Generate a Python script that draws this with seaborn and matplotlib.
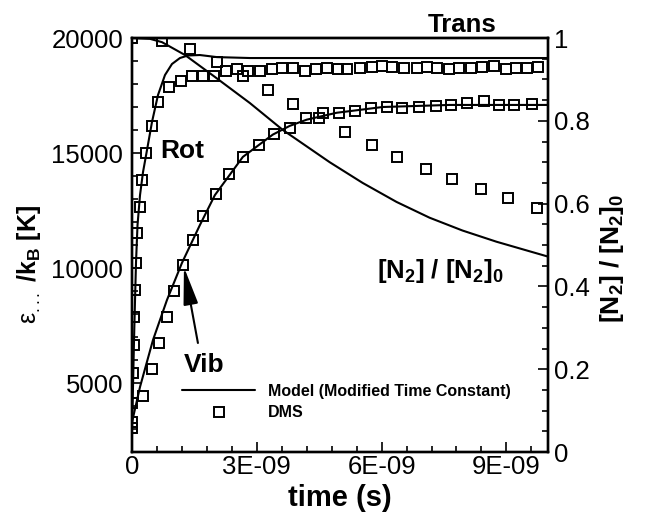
import numpy as np
import pandas as pd
import matplotlib
matplotlib.use("Agg")
import matplotlib.pyplot as plt
import seaborn as sns
from matplotlib.lines import Line2D
from matplotlib.ticker import MultipleLocator, FixedLocator, FixedFormatter

# ---- model curves (time in ns, energy in K) ----
trans_model_t = [0.0, 10.0]
trans_model_E = [20000, 20000]

rot_model_t = [0, 0.024, 0.048, 0.072, 0.096, 0.132, 0.192, 0.264, 0.36, 0.48,
               0.624, 0.792, 0.96, 1.152, 1.344, 1.632, 2.04, 2.832, 10.0]
rot_model_E = [3000, 4900, 6870, 8610, 10260, 11870, 13170, 14170, 15130, 16350,
               17520, 18390, 18870, 19130, 19240, 19260, 19170, 19130, 19130]

vib_model_t = [0, 0.192, 0.504, 0.84, 1.2, 1.632, 1.992, 2.664, 3.384, 3.792,
               4.2, 4.92, 6.024, 7.632, 10.0]
vib_model_E = [3300, 4830, 6870, 8610, 10220, 11870, 13170, 14830, 15800, 16180,
               16450, 16750, 17000, 17090, 17090]

n2_model_t = [0, 0.432, 0.72, 1.272, 1.992, 2.832, 3.624, 4.752, 5.544, 6.36,
              7.152, 7.944, 8.76, 9.552, 10.0]
n2_model_frac = [1.0, 0.998, 0.990, 0.959, 0.906, 0.843, 0.778, 0.700, 0.650, 0.604,
                 0.566, 0.535, 0.508, 0.485, 0.472]

# ---- DMS samples ----
rot_dms_t = [0, 0.01, 0.02, 0.04, 0.05, 0.07, 0.1, 0.13, 0.18, 0.25,
             0.34, 0.47, 0.62, 0.89, 1.18, 1.44, 1.70, 1.97,
             2.26, 2.52, 2.78, 3.07, 3.36, 3.60, 3.86, 4.15, 4.42, 4.68,
             4.94, 5.18, 5.47, 5.76, 6.02, 6.26, 6.55, 6.84, 7.10, 7.34,
             7.63, 7.87, 8.16, 8.42, 8.71, 9.00, 9.24, 9.50, 9.77]
rot_dms_E = [3040, 4130, 5430, 6650, 7870, 9040, 10220, 11520, 12650, 13830,
             15000, 16170, 17220, 17870, 18130, 18350, 18350, 18350,
             18570, 18650, 18570, 18570, 18650, 18700, 18700, 18570, 18650, 18700,
             18650, 18650, 18700, 18740, 18780, 18740, 18700, 18700, 18740, 18700,
             18650, 18700, 18700, 18740, 18780, 18650, 18700, 18700, 18740]

vib_dms_t = [0, 0.26, 0.48, 0.65, 0.84, 1.01, 1.22, 1.46, 1.70, 2.02,
             2.33, 2.66, 3.05, 3.41, 3.79, 4.18, 4.58, 4.97, 5.35, 5.74,
             6.12, 6.50, 6.89, 7.30, 7.68, 8.06, 8.47, 8.83, 9.19, 9.62]
vib_dms_E = [3300, 4430, 5610, 6740, 7870, 9000, 10130, 11220, 12260, 13220,
             14090, 14830, 15350, 15830, 16090, 16520, 16740, 16740, 16830, 16960,
             17000, 16960, 17000, 17040, 17090, 17170, 17260, 17090, 17090, 17130]

n2_dms_t = [0, 0.72, 1.39, 2.04, 2.66, 3.26, 3.86, 4.49, 5.11, 5.76,
            6.38, 7.06, 7.70, 8.38, 9.05, 9.74]
n2_dms_frac = [1.0, 0.993, 0.973, 0.942, 0.908, 0.874, 0.841, 0.807, 0.773, 0.742,
               0.713, 0.684, 0.659, 0.635, 0.614, 0.589]

# ---- axis ticks ----
xtick_vals = [0.0, 3e-9, 6e-9, 9e-9]
xtick_labels = ["0", "3E-09", "6E-09", "9E-09"]
ytick_right_vals = [0.0, 0.2, 0.4, 0.6, 0.8, 1.0]
ytick_right_labels = ["0", "0.2", "0.4", "0.6", "0.8", "1"]
legend_labels = ["Model (Modified Time Constant)", "DMS"]

sns.set_theme(style="white")
plt.rcParams.update({
    "font.family": ["Liberation Sans", "DejaVu Sans"],
    "mathtext.fontset": "custom",
    "mathtext.rm": "Liberation Sans",
    "mathtext.bf": "Liberation Sans:bold",
    "mathtext.it": "Liberation Sans:italic",
    "mathtext.sf": "Liberation Sans",
    "text.color": "black",
    "axes.labelcolor": "black",
    "axes.edgecolor": "black",
    "xtick.color": "black",
    "ytick.color": "black",
})

fig = plt.figure(figsize=(6.45, 5.13), dpi=100)
ax = fig.add_axes([0.2047, 0.1189, 0.6449, 0.8070])
ax2 = ax.twinx()


def seconds(t_ns):
    return np.asarray(t_ns, dtype=float) * 1e-9


line_kw = dict(color="black", lw=1.5, sort=False, estimator=None, legend=False)
dms_kw = dict(color="black", linestyle="none", marker="s", markersize=6.5,
              markerfacecolor="none", markeredgecolor="black", markeredgewidth=1.4,
              sort=False, estimator=None, legend=False)

curves = pd.DataFrame({"t": seconds(rot_model_t), "E": rot_model_E})
sns.lineplot(data=curves, x="t", y="E", ax=ax, **line_kw)
curves = pd.DataFrame({"t": seconds(vib_model_t), "E": vib_model_E})
sns.lineplot(data=curves, x="t", y="E", ax=ax, **line_kw)
curves = pd.DataFrame({"t": seconds(trans_model_t), "E": trans_model_E})
sns.lineplot(data=curves, x="t", y="E", ax=ax, clip_on=False, **line_kw)

sns.lineplot(x=seconds(rot_dms_t), y=rot_dms_E, ax=ax, **dms_kw)
sns.lineplot(x=seconds(vib_dms_t), y=vib_dms_E, ax=ax, **dms_kw)

sns.lineplot(x=seconds(n2_model_t), y=n2_model_frac, ax=ax2, **line_kw)
sns.lineplot(x=seconds(n2_dms_t), y=n2_dms_frac, ax=ax2, **dms_kw)

# ---- limits and ticks ----
ax.set_xlim(0, 1e-8)
ax.set_ylim(2000, 20000)
ax2.set_ylim(0, 1)

ax.xaxis.set_major_locator(FixedLocator(xtick_vals))
ax.xaxis.set_major_formatter(FixedFormatter(xtick_labels))
ax.xaxis.set_minor_locator(MultipleLocator(0.6e-9))
ax.yaxis.set_major_locator(MultipleLocator(5000))
ax.yaxis.set_minor_locator(MultipleLocator(1000))
ax2.yaxis.set_major_locator(FixedLocator(ytick_right_vals))
ax2.yaxis.set_major_formatter(FixedFormatter(ytick_right_labels))
ax2.yaxis.set_minor_locator(MultipleLocator(0.05))

for a in (ax, ax2):
    for sp in a.spines.values():
        sp.set_linewidth(1.7)
        sp.set_color("black")

ax.tick_params(which="both", direction="in", top=False, right=False,
               labelsize=18.5, width=1.2, colors="black")
ax.tick_params(which="major", length=7)
ax.tick_params(which="minor", length=4)
ax.tick_params(axis="x", which="both", pad=2, bottom=True)
ax.tick_params(axis="y", which="both", pad=6.5, left=True)
ax2.tick_params(which="both", direction="in", left=False, right=True,
                labelsize=18.5, width=1.2, pad=4.5, colors="black")
ax2.tick_params(which="major", length=7)
ax2.tick_params(which="minor", length=4)

# ---- axis titles ----
ax.set_xlabel("time (s)", fontsize=21, fontweight="bold", labelpad=4)
ax.set_ylabel(r"$\mathrm{ε}_{...}$ $\mathbf{/k_B\ [K]}$", fontsize=18)
ax.yaxis.set_label_coords(-0.215, 0.454)
ax2.set_ylabel(r"$\mathbf{[N_2]\ /\ [N_2]_0}$", fontsize=19)
ax2.yaxis.set_label_coords(1.12, 0.469)

# ---- curve annotations ----
ax.text(7.944e-9, 20260, "Trans", fontsize=18.5, fontweight="bold",
        ha="center", va="baseline", clip_on=False)
ax.text(1.212e-9, 14783, "Rot", fontsize=19, fontweight="bold",
        ha="center", va="baseline")
ax.text(1.728e-9, 5478, "Vib", fontsize=19, fontweight="bold",
        ha="center", va="baseline")
ax.text(5.88e-9, 9565, r"$\mathbf{[N_2]\ /\ [N_2]_0}$", fontsize=18.5,
        ha="left", va="baseline")
ax.annotate("", xy=(1.248e-9, 10040), xytext=(1.584e-9, 6740),
            arrowprops=dict(arrowstyle="-|>,head_length=2.3,head_width=0.45",
                            color="black", lw=1.5, shrinkA=0, shrinkB=0,
                            mutation_scale=10))

# ---- legend ----
handles = [
    Line2D([], [], color="black", lw=1.5),
    Line2D([], [], linestyle="none", marker="s", markersize=6.5,
           markerfacecolor="none", markeredgecolor="black", markeredgewidth=1.4),
]
ax2.legend(handles, legend_labels, loc="upper left",
           bbox_to_anchor=(182 / 645, 1 - 384 / 513), bbox_transform=fig.transFigure,
           frameon=False, prop={"weight": "bold", "size": 11.5},
           handlelength=4.6, handletextpad=0.8, labelspacing=0.4,
           borderpad=0, borderaxespad=0, numpoints=1)

fig.savefig("out.png", dpi=100)
